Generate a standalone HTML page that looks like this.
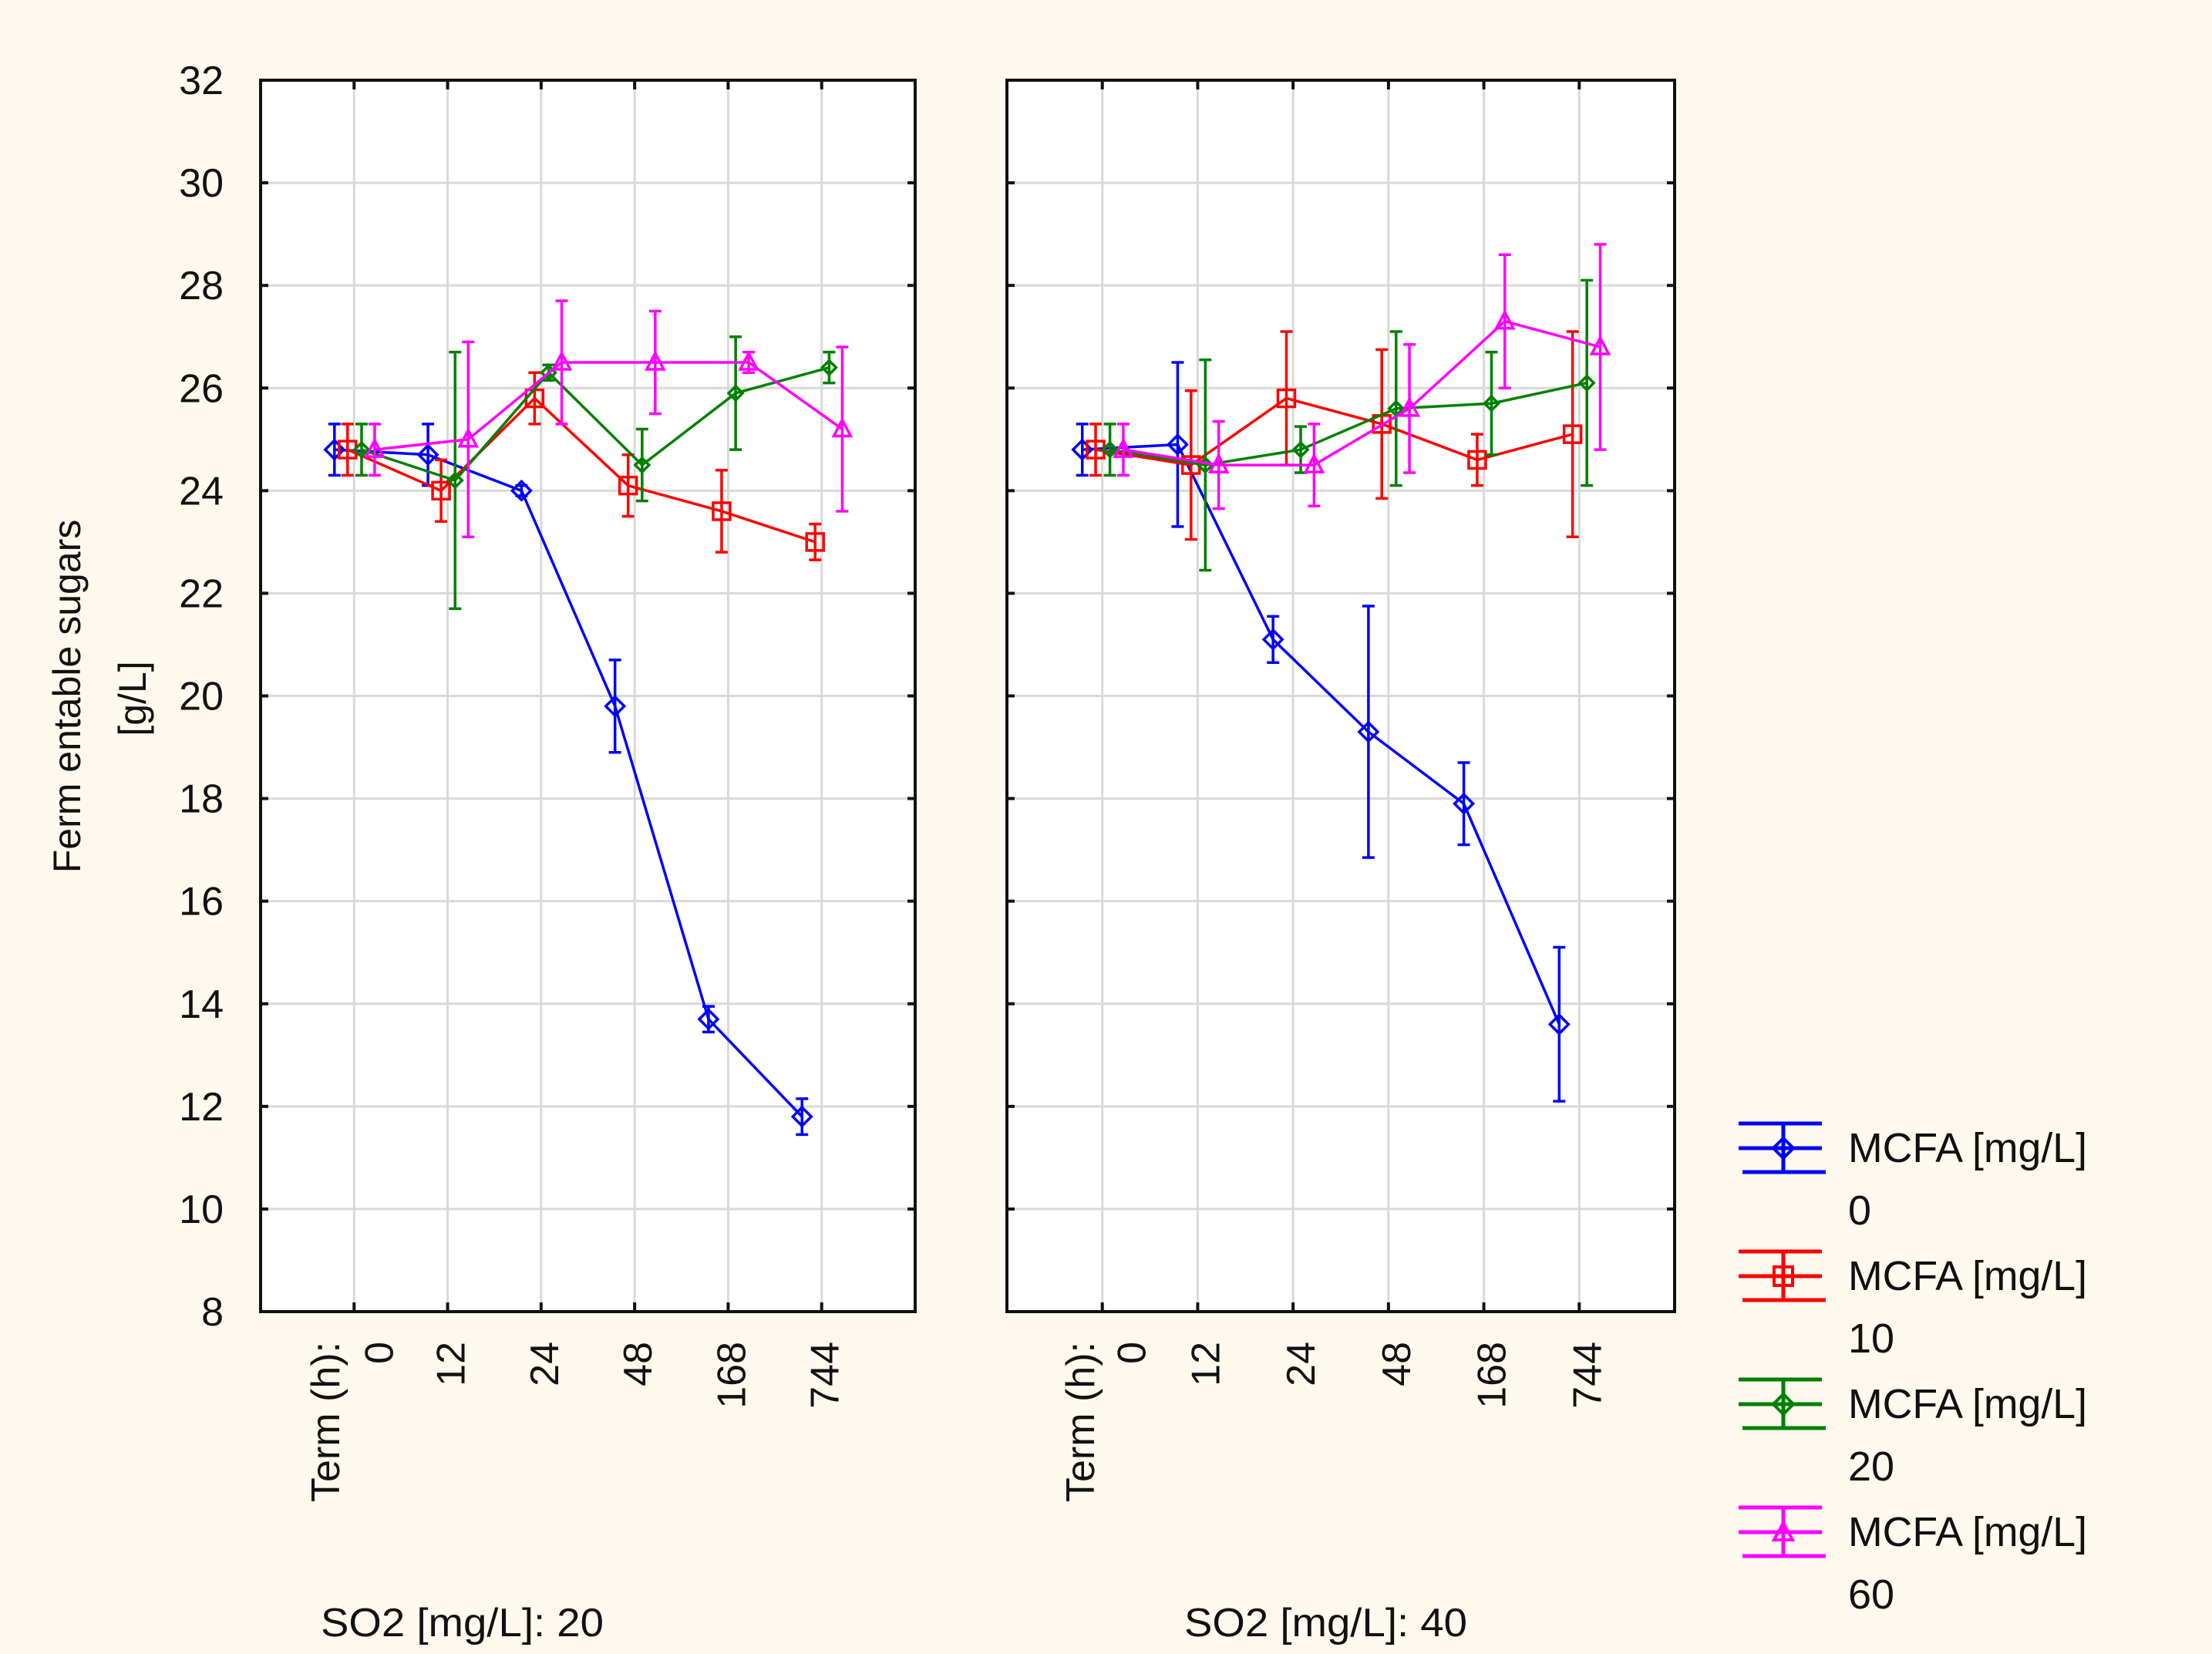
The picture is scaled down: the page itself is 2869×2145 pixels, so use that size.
<!DOCTYPE html>
<html><head><meta charset="utf-8"><style>
html,body{margin:0;padding:0;background:#fdf9ee;}
svg{display:block;}
text{font-family:"Liberation Sans",Arial,sans-serif;fill:#111;}
</style></head><body>
<svg id="chart" width="2869" height="2145" viewBox="0 0 2869 2145" xmlns="http://www.w3.org/2000/svg">
<rect x="0" y="0" width="2869" height="2145" fill="#fdf9ee"/>
<g id="root"></g>
</svg>
<script>
const categories = ["0","12","24","48","168","744"];
const yTicks = [8,10,12,14,16,18,20,22,24,26,28,30,32];
const seriesNames = ["0","10","20","60"];
const seriesColors = ["#0000ff","#ff0000","#008000","#ff00ff"];
const panelTitles = ["SO2 [mg/L]: 20","SO2 [mg/L]: 40"];
// Panel 1 (SO2 20)
const p1Mcfa0 = [24.8,24.7,24.0,19.8,13.7,11.8];
const p1Mcfa0Err = [0.5,0.6,0.1,0.9,0.25,0.35];
const p1Mcfa10 = [24.8,24.0,25.8,24.1,23.6,23.0];
const p1Mcfa10Err = [0.5,0.6,0.5,0.6,0.8,0.35];
const p1Mcfa20 = [24.8,24.2,26.3,24.5,25.9,26.4];
const p1Mcfa20Err = [0.5,2.5,0.15,0.7,1.1,0.3];
const p1Mcfa60 = [24.8,25.0,26.5,26.5,26.5,25.2];
const p1Mcfa60Err = [0.5,1.9,1.2,1.0,0.2,1.6];
// Panel 2 (SO2 40)
const p2Mcfa0 = [24.8,24.9,21.1,19.3,17.9,13.6];
const p2Mcfa0Err = [0.5,1.6,0.45,2.45,0.8,1.5];
const p2Mcfa10 = [24.8,24.5,25.8,25.3,24.6,25.1];
const p2Mcfa10Err = [0.5,1.45,1.3,1.45,0.5,2.0];
const p2Mcfa20 = [24.8,24.5,24.8,25.6,25.7,26.1];
const p2Mcfa20Err = [0.5,2.05,0.45,1.5,1.0,2.0];
const p2Mcfa60 = [24.8,24.5,24.5,25.6,27.3,26.8];
const p2Mcfa60Err = [0.5,0.85,0.8,1.25,1.3,2.0];

const panelValues = [[p1Mcfa0,p1Mcfa10,p1Mcfa20,p1Mcfa60],[p2Mcfa0,p2Mcfa10,p2Mcfa20,p2Mcfa60]];
const panelErrors = [[p1Mcfa0Err,p1Mcfa10Err,p1Mcfa20Err,p1Mcfa60Err],[p2Mcfa0Err,p2Mcfa10Err,p2Mcfa20Err,p2Mcfa60Err]];

const NS="http://www.w3.org/2000/svg";
const root=document.getElementById('root');
function mk(tag,attrs,parent){const e=document.createElementNS(NS,tag);for(const k in attrs)e.setAttribute(k,attrs[k]);(parent||root).appendChild(e);return e;}

const yTop=104, yBot=1701, yMin=8, yMax=32;
function yScale(v){return yBot-(v-yMin)/(yMax-yMin)*(yBot-yTop);}
const panels=[{l:338,r:1187,lab:4},{l:1306,r:2172,lab:10}];
const offsets=[-0.21,-0.07,0.08,0.22];

yTicks.forEach(t=>{
  const tx=mk('text',{x:290,y:yScale(t)+18,'text-anchor':'end','font-size':52});
  tx.textContent=t;
  
  
});
let yt=mk('text',{x:0,y:0,transform:'translate(104,903) rotate(-90)','text-anchor':'middle','font-size':50});
yt.textContent='Ferm entable sugars';


let yt2=mk('text',{x:0,y:0,transform:'translate(189,906) rotate(-90)','text-anchor':'middle','font-size':50});
yt2.textContent='[g/L]';



panels.forEach((p,pi)=>{
  const g=mk('g',{});
  
  
  const step=(p.r-p.l)/(categories.length+1);
  const xScale=i=>p.l+step*(i+1);
  mk('rect',{x:p.l,y:yTop,width:p.r-p.l,height:yBot-yTop,fill:'#fff'},g);
  yTicks.forEach(t=>{
    if(t===yMin||t===yMax)return;
    const gl=mk('line',{x1:p.l,x2:p.r,y1:yScale(t),y2:yScale(t),stroke:'#d9d9d9','stroke-width':3},g);
    
    
    mk('line',{x1:p.l,x2:p.l+10,y1:yScale(t),y2:yScale(t),stroke:'#111','stroke-width':4},g);
    mk('line',{x1:p.r-10,x2:p.r,y1:yScale(t),y2:yScale(t),stroke:'#111','stroke-width':4},g);
  });
  categories.forEach((c,i)=>{
    const x=xScale(i);
    const gl=mk('line',{x1:x,x2:x,y1:yTop,y2:yBot,stroke:'#d9d9d9','stroke-width':3},g);
    
    
    mk('line',{x1:x,x2:x,y1:yTop,y2:yTop+12,stroke:'#111','stroke-width':4},g);
    mk('line',{x1:x,x2:x,y1:yBot-12,y2:yBot,stroke:'#111','stroke-width':4},g);
    const lx=x+p.lab+(i===0?28:0)+18;
    const tl=mk('text',{x:0,y:0,transform:`translate(${lx},1740) rotate(-90)`,'text-anchor':'end','font-size':52},g);
    tl.textContent=c;
    
    
  });
  const th=mk('text',{x:0,y:0,transform:`translate(${p.l+84+(pi?11:0)+18},1740) rotate(-90)`,'text-anchor':'end','font-size':52},g);
  th.textContent='Term  (h):';
  
  
  const pt=mk('text',{x:pi?1536:416,y:2122,'font-size':52,textLength:367,lengthAdjust:'spacingAndGlyphs'},g);
  pt.textContent=panelTitles[pi];
  
  

  panelValues[pi].forEach((vals,si)=>{
    const col=seriesColors[si];
    const sg=mk('g',{},g);
    
    
    const pts=vals.map((v,i)=>[xScale(i+offsets[si]),yScale(v)]);
    const pl=mk('polyline',{points:pts.map(q=>q.join(',')).join(' '),fill:'none',stroke:col,'stroke-width':3.5},sg);
    
    
    vals.forEach((v,i)=>{
      const x=pts[i][0], e=panelErrors[pi][si][i];
      const y1=yScale(v+e), y2=yScale(v-e);
      const eb=mk('path',{d:`M${x},${y1}V${y2}M${x-8},${y1}H${x+8}M${x-8},${y2}H${x+8}`,stroke:col,'stroke-width':3.5,fill:'none'},sg);
      
      
      const y=pts[i][1];
      let m;
      if(si===0) m=mk('path',{d:`M${x-12},${y}L${x},${y-12}L${x+12},${y}L${x},${y+12}Z`},sg);
      else if(si===1) m=mk('rect',{x:x-11,y:y-11,width:22,height:22},sg);
      else if(si===2) m=mk('path',{d:`M${x-9},${y}L${x},${y-9}L${x+9},${y}L${x},${y+9}Z`},sg);
      else m=mk('path',{d:`M${x-11},${y+9}L${x},${y-12}L${x+11},${y+9}Z`},sg);
      m.setAttribute('fill','none');m.setAttribute('stroke',col);m.setAttribute('stroke-width',3.5);
      
      
    });
  });
  const fr=mk('rect',{x:p.l,y:yTop,width:p.r-p.l,height:yBot-yTop,fill:'none',stroke:'#111','stroke-width':4},g);
  
  
});

seriesNames.forEach((n,i)=>{
  const col=seriesColors[i];
  const cy=1489+i*166;
  const lg=mk('g',{});
  
  
  mk('path',{d:`M2255,${cy-32}H2363M2255,${cy}H2363M2260,${cy+31}H2368M2313,${cy-32}V${cy+31}`,stroke:col,'stroke-width':5,fill:'none'},lg);
  if(i===1) mk('rect',{x:2301,y:cy-12,width:24,height:24,fill:'none',stroke:col,'stroke-width':4},lg);
  else if(i===3) mk('path',{d:`M2301,${cy+10}L2313,${cy-12}L2325,${cy+10}Z`,fill:'none',stroke:col,'stroke-width':4},lg);
  else mk('path',{d:`M2300,${cy}L2313,${cy-13}L2326,${cy}L2313,${cy+13}Z`,fill:'none',stroke:col,'stroke-width':4},lg);
  const t1=mk('text',{x:2397,y:cy+18,'font-size':54,textLength:310,lengthAdjust:'spacingAndGlyphs'},lg);
  t1.textContent='MCFA [mg/L]';
  const t2=mk('text',{x:2397,y:cy+99,'font-size':54},lg);
  t2.textContent=n;
});
</script>
</body></html>
